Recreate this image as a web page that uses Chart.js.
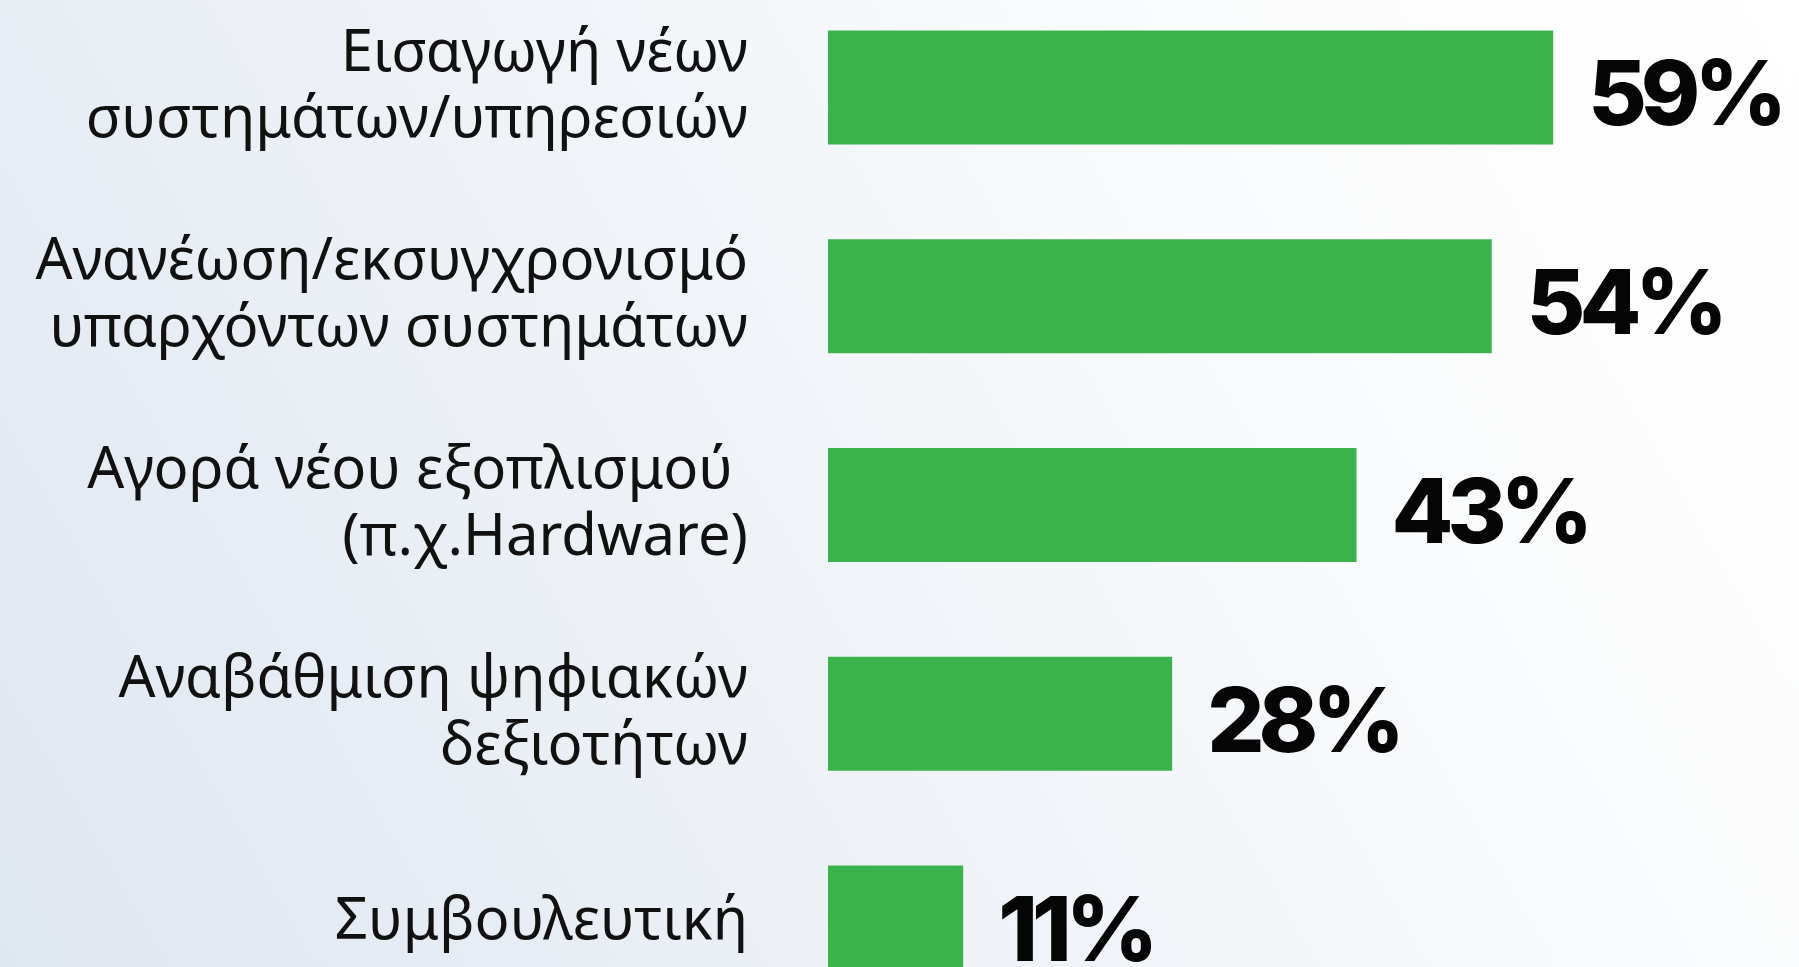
<!DOCTYPE html>
<html lang="el">
<head>
<meta charset="UTF-8">
<title>Επενδύσεις</title>
<script src="https://cdn.jsdelivr.net/npm/chart.js@4.4.0/dist/chart.umd.min.js"></script>
<style>
  * { margin: 0; padding: 0; box-sizing: border-box; }
  html, body { width: 1799px; height: 967px; overflow: hidden; }
  body {
    background: linear-gradient(60deg, #dfe7f1 0%, #eef2f7 40%, #fbfcfd 75%, #ffffff 100%);
    position: relative;
  }
  .wrap {
    position: absolute;
    left: 0;
    top: -17px;
    width: 1799px;
    height: 1044px;
  }
</style>
</head>
<body>
<div class="wrap"><canvas id="chart"></canvas></div>
<script>
// κατηγορίες (πολλαπλές γραμμές ανά ετικέτα)
const categories = [
  ['Εισαγωγή νέων', 'συστημάτων/υπηρεσιών'],
  ['Ανανέωση/εκσυγχρονισμό', 'υπαρχόντων συστημάτων'],
  ['Αγορά νέου εξοπλισμού ', '(π.χ.Hardware)'],
  ['Αναβάθμιση ψηφιακών', 'δεξιοτήτων'],
  ['Συμβουλευτική']
];
const values = [59, 54, 43, 28, 11];
const barColor = '#3bb34d';

// ετικέτες τιμών δεξιά από κάθε μπάρα
const valueLabels = {
  id: 'valueLabels',
  afterDatasetsDraw(chart) {
    const ctx = chart.ctx;
    const meta = chart.getDatasetMeta(0);
    ctx.save();
    ctx.fillStyle = '#050505';
    ctx.font = '800 90px Inter, "Noto Sans", sans-serif';
    ctx.letterSpacing = '-6px';
    ctx.textAlign = 'left';
    ctx.textBaseline = 'middle';
    meta.data.forEach((bar, i) => {
      ctx.fillText(values[i] + '%', bar.x + 35, bar.y + 11);
    });
    ctx.restore();
  }
};

new Chart(document.getElementById('chart'), {
  type: 'bar',
  data: {
    labels: categories,
    datasets: [{
      data: values,
      backgroundColor: barColor,
      borderWidth: 0,
      barPercentage: 0.546,
      categoryPercentage: 1
    }]
  },
  options: {
    indexAxis: 'y',
    responsive: true,
    maintainAspectRatio: false,
    animation: false,
    layout: { padding: 0 },
    plugins: {
      legend: { display: false },
      tooltip: { enabled: false }
    },
    scales: {
      x: {
        display: false,
        min: 0,
        max: 79
      },
      y: {
        grid: { display: false },
        border: { display: false },
        afterFit(scale) {
          // σταθερό πλάτος άξονα, χωρίς κάθετο περιθώριο από τις ετικέτες
          scale.width = 828;
          scale.paddingTop = 0;
          scale.paddingBottom = 0;
        },
        ticks: {
          color: '#111111',
          padding: 72,
          font: { family: '"Noto Sans", sans-serif', size: 58, weight: 400, lineHeight: 1.15 }
        }
      }
    }
  },
  plugins: [valueLabels]
});
</script>
</body>
</html>
